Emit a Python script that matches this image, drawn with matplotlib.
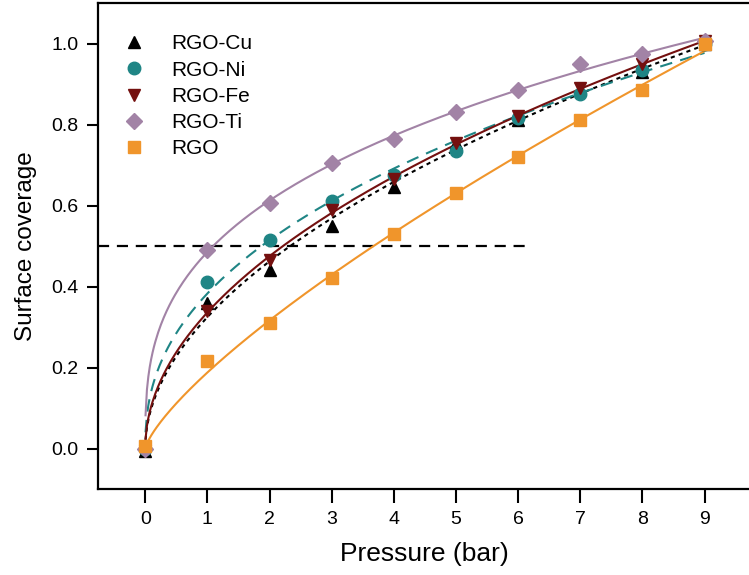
import numpy as np
import matplotlib
matplotlib.use('Agg')
import matplotlib.pyplot as plt

plt.rcParams['font.family'] = ['Liberation Sans', 'DejaVu Sans']

pressure = [0, 1, 2, 3, 4, 5, 6, 7, 8, 9]

cov_cu = [-0.005, 0.36, 0.44, 0.55, 0.645, 0.755, 0.81, 0.885, 0.93, 1.0]
cov_ni = [0.0, 0.41, 0.515, 0.61, 0.675, 0.735, 0.815, 0.875, 0.935, 1.0]
cov_fe = [-0.005, 0.34, 0.465, 0.59, 0.665, 0.755, 0.82, 0.89, 0.95, 1.005]
cov_ti = [0.0, 0.49, 0.606, 0.705, 0.765, 0.83, 0.885, 0.95, 0.975, 1.005]
cov_rgo = [0.005, 0.215, 0.31, 0.42, 0.53, 0.63, 0.72, 0.81, 0.885, 1.0]

labels = ['RGO-Cu', 'RGO-Ni', 'RGO-Fe', 'RGO-Ti', 'RGO']
colors = ['black', '#1f8585', '#74100f', '#a283a6', '#f0952b']
markers = ['^', 'o', 'v', 'D', 's']
msizes = [9, 9, 9, 8, 8]
fit_styles = [(0, (2, 2)), (0, (6, 4)), '-', '-', '-']
series = [cov_cu, cov_ni, cov_fe, cov_ti, cov_rgo]

fig = plt.figure(figsize=(7.49, 5.75), dpi=100)
ax = fig.add_axes([98 / 749, (575 - 489) / 575, 1 - 98 / 749 + 0.002, (489 - 3) / 575])

p = np.array(pressure, dtype=float)
pf = np.linspace(0.005, 9, 400)
n_grid = np.linspace(0.1, 1.2, 2201)

# Freundlich fit y = K p^n, plain least squares (K closed form for each n)
for y, c, ls in zip(series, colors, fit_styles):
    y = np.array(y)
    best = None
    for n in n_grid:
        pn = p ** n
        K = np.sum(y * pn) / np.sum(pn * pn)
        sse = np.sum((y - K * pn) ** 2)
        if best is None or sse < best[0]:
            best = (sse, K, n)
    _, K, n = best
    ax.plot(pf, K * pf ** n, color=c, ls=ls, lw=1.5, zorder=2)

for y, c, m, ms, lab in zip(series, colors, markers, msizes, labels):
    ax.plot(pressure, y, ls='none', marker=m, ms=ms, color=c, mec=c,
            label=lab, zorder=3)

ax.plot([-0.76, 6.2], [0.5, 0.5], color='black', ls=(0, (5, 3.5)), lw=1.6, zorder=1)

ax.set_xlim(-0.76, 9.74)
ax.set_ylim(-0.1, 1.1)
ax.set_xticks(range(10))
ax.set_yticks([0.0, 0.2, 0.4, 0.6, 0.8, 1.0])
ax.set_yticklabels(['0.0', '0.2', '0.4', '0.6', '0.8', '1.0'])
ax.spines['right'].set_visible(False)
for s in ['left', 'bottom', 'top']:
    ax.spines[s].set_linewidth(1.6)
ax.tick_params(direction='out', length=8, width=1.5, labelsize=14, pad=6)
ax.tick_params(axis='x', length=10)

ax.set_xlabel('Pressure (bar)', fontsize=19, labelpad=10)
ax.set_ylabel('Surface coverage', fontsize=17.5, labelpad=10)

ax.legend(loc='upper left', frameon=False, fontsize=15, handletextpad=0.8,
          borderaxespad=0.4, bbox_to_anchor=(-0.002, 0.97), labelspacing=0.35)

fig.savefig('out.png', dpi=100)
